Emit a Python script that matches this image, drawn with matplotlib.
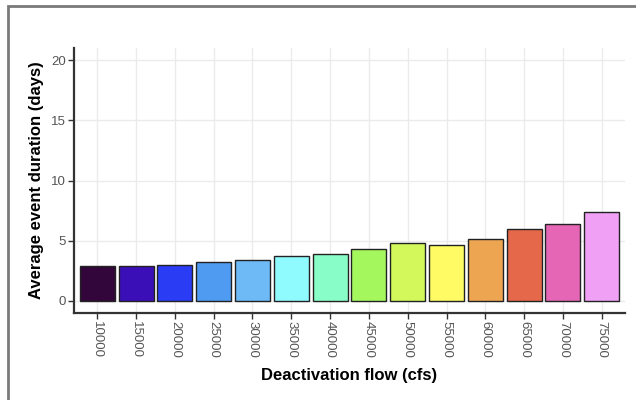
import matplotlib
matplotlib.use("Agg")
import matplotlib.pyplot as plt
from matplotlib.patches import Rectangle

# deactivation flow categories and average event duration (days)
flows = ["10000", "15000", "20000", "25000", "30000", "35000", "40000",
         "45000", "50000", "55000", "60000", "65000", "70000", "75000"]
durations = [2.9, 2.9, 3.0, 3.2, 3.4, 3.7, 3.9, 4.3, 4.8, 4.65, 5.15, 5.95, 6.35, 7.4]
bar_colors = ["#33063b", "#3b0fb8", "#2a3df5", "#4f9bf2", "#6dbaf7", "#8ffbff",
              "#88fdc8", "#a4f75c", "#d2f85c", "#fffb64", "#eda552", "#e6684a",
              "#e466b5", "#f0a0f5"]
y_ticks = [0, 5, 10, 15, 20]

plt.rcParams['font.family'] = ['Liberation Sans', 'DejaVu Sans']

fig = plt.figure(figsize=(6.36, 4.0), dpi=100)
ax = fig.add_axes([74 / 636, 1 - 313 / 400, (625 - 74) / 636, (313 - 48) / 400])

x = list(range(len(flows)))
ax.bar(x, durations, width=0.9, color=bar_colors, edgecolor="#222222",
       linewidth=1.0, zorder=3)

ax.set_xlim(-0.6, len(flows) - 0.4)
ax.set_ylim(-1, 21)
ax.set_xticks(x)
ax.set_xticklabels(flows, rotation=270, fontsize=9.5, color="#555555")
ax.set_yticks(y_ticks)
ax.set_yticklabels([str(t) for t in y_ticks], fontsize=9.5, color="#555555")
ax.tick_params(axis="both", length=4, width=1, color="#333333", pad=2)

ax.grid(True, color="#ebebeb", linewidth=1.0, zorder=0)
ax.set_axisbelow(True)
for side in ["top", "right"]:
    ax.spines[side].set_visible(False)
for side in ["left", "bottom"]:
    ax.spines[side].set_color("#333333")
    ax.spines[side].set_linewidth(1.6)

ax.set_xlabel("Deactivation flow (cfs)", fontsize=12, fontweight="bold", labelpad=7)
ax.set_ylabel("Average event duration (days)", fontsize=12, fontweight="bold", labelpad=5)

# grey frame around the whole picture (cut off at right and bottom)
fig.patches.append(Rectangle((8 / 636, -0.02), 1.0, 1 - 5.5 / 400 + 0.02,
                             transform=fig.transFigure, fill=False,
                             edgecolor="#7a7a7a", linewidth=2))

fig.savefig("out.png", dpi=100)
